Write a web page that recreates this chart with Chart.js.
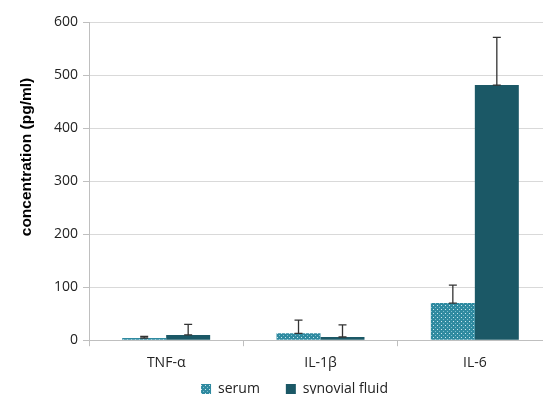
<!DOCTYPE html>
<html><head><meta charset="utf-8">
<script src="https://cdn.jsdelivr.net/npm/chart.js@4/dist/chart.umd.min.js"></script>
<style>
html,body{margin:0;padding:0;background:#fff;overflow:hidden;width:543px;height:394px;}
#wrap{position:relative;width:552px;height:394px;}
</style></head><body>
<div id="wrap"><canvas id="c" width="552" height="394"></canvas></div>
<script>
const categories = ['TNF-α', 'IL-1β', 'IL-6'];
const serumValues = [4, 13, 70];
const serumErrors = [3, 25, 34];
const synovialValues = [10, 6, 481];
const synovialErrors = [20, 23, 90];
const yTicks = [0, 100, 200, 300, 400, 500, 600];
const yTitle = 'concentration (pg/ml)';

function makePattern() {
  const p = document.createElement('canvas');
  p.width = 4; p.height = 4;
  const g = p.getContext('2d');
  g.fillStyle = '#2f8aa0';
  g.fillRect(0, 0, 4, 4);
  g.fillStyle = '#c9e6ee';
  g.fillRect(1, 1, 1, 1);
  g.fillStyle = '#7fbfcf';
  g.fillRect(3, 3, 1, 1);
  return document.getElementById('c').getContext('2d').createPattern(p, 'repeat');
}

const errorBarPlugin = {
  id: 'errorBars',
  afterDatasetsDraw(chart) {
    const ctx = chart.ctx;
    const y = chart.scales.y;
    chart.data.datasets.forEach((ds, di) => {
      const meta = chart.getDatasetMeta(di);
      meta.data.forEach((bar, i) => {
        const v = ds.data[i];
        const e = ds.errors[i];
        const yTop = y.getPixelForValue(v + e);
        const yBase = y.getPixelForValue(v);
        ctx.save();
        ctx.strokeStyle = '#333';
        ctx.lineWidth = 1.3;
        ctx.beginPath();
        ctx.moveTo(bar.x, yBase);
        ctx.lineTo(bar.x, yTop);
        ctx.moveTo(bar.x - 4, yTop);
        ctx.lineTo(bar.x + 4, yTop);
        ctx.moveTo(bar.x - 4, yBase);
        ctx.lineTo(bar.x + 4, yBase);
        ctx.stroke();
        ctx.restore();
      });
    });
  }
};

const yTitlePlugin = {
  id: 'yTitle',
  afterDraw(chart) {
    const ctx = chart.ctx;
    ctx.save();
    ctx.translate(27, 157);
    ctx.rotate(-Math.PI / 2);
    ctx.font = 'bold 15.5px "Liberation Sans"';
    ctx.fillStyle = '#000';
    ctx.textAlign = 'center';
    ctx.textBaseline = 'middle';
    ctx.fillText(yTitle, 0, 0);
    ctx.restore();
  }
};

const LEGEND_H = 15;
const legendFix = {
  id: 'legendFix',
  afterInit(chart) {
    const lg = chart.legend;
    const orig = lg.fit;
    lg.fit = function () { orig.call(this); this.height = LEGEND_H; };
  },
  afterLayout(chart) {
    const lg = chart.legend;
    lg.top = 356;
    lg.bottom = chart.height;
    lg.left -= 6; lg.right -= 6;
  }
};

const serumPattern = makePattern();

new Chart(document.getElementById('c'), {
  type: 'bar',
  data: {
    labels: categories,
    datasets: [
      { label: 'serum', data: serumValues, errors: serumErrors, backgroundColor: serumPattern, borderWidth: 0 },
      { label: 'synovial fluid', data: synovialValues, errors: synovialErrors, backgroundColor: '#1b5866', borderWidth: 0 }
    ]
  },
  options: {
    responsive: false,
    animation: false,
    devicePixelRatio: 1,
    layout: { padding: { top: 22, right: 0, left: 49, bottom: 0 } },
    datasets: { bar: { categoryPercentage: 0.57, barPercentage: 1.0 } },
    plugins: {
      legend: {
        position: 'bottom',
        labels: {
          boxWidth: 10, boxHeight: 10, padding: 26,
          font: { family: 'Open Sans', size: 14 }, color: '#222'
        }
      },
      tooltip: { enabled: false }
    },
    scales: {
      x: {
        grid: { display: true, drawOnChartArea: false, offset: true, color: '#bfbfbf', tickLength: 6 },
        border: { color: '#bfbfbf' },
        ticks: { font: { family: 'Open Sans', size: 14 }, color: '#222', padding: 8 }
      },
      y: {
        min: 0, max: 600,
        afterBuildTicks(scale) { scale.ticks = yTicks.map(v => ({ value: v })); },
        grid: { color: '#d9d9d9', tickLength: 6, tickColor: '#bfbfbf' },
        border: { color: '#bfbfbf' },
        ticks: { font: { family: 'Open Sans', size: 14 }, color: '#222', padding: 5 },
        title: { display: false }
      }
    }
  },
  plugins: [errorBarPlugin, legendFix, yTitlePlugin]
});
</script>
</body></html>
